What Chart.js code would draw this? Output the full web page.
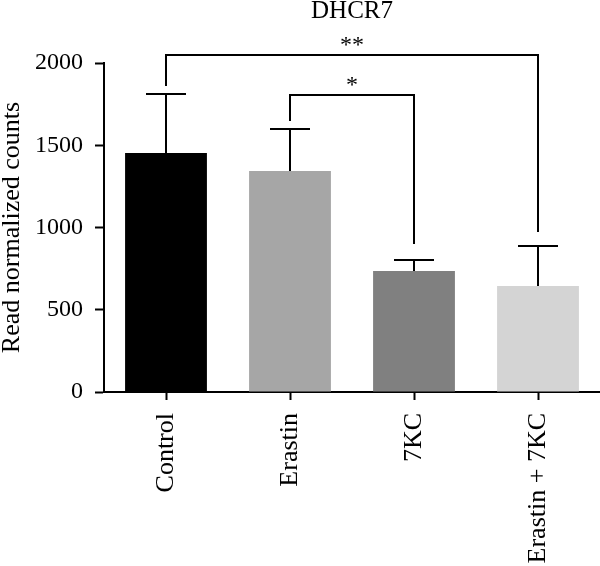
<!DOCTYPE html>
<html>
<head>
<meta charset="utf-8">
<script src="https://cdn.jsdelivr.net/npm/chart.js@4.4.0/dist/chart.umd.min.js"></script>
<style>
  html, body { margin: 0; padding: 0; background: #fff; }
  #wrap { width: 600px; height: 566px; position: relative; }
</style>
</head>
<body>
<div id="wrap"><canvas id="c"></canvas></div>
<script>
// ---- data ----
const categories = ['Control', 'Erastin', '7KC', 'Erastin + 7KC'];
const means = [1453, 1343, 736, 644];
const errorTops = [1812, 1599, 802, 888];
const barColors = ['#000000', '#a6a6a6', '#808080', '#d4d4d4'];
const yTicks = [0, 500, 1000, 1500, 2000];
// significance brackets: [fromIndex, toIndex], level, tip ends, label
const bracketPairs = [[0, 3], [1, 2]];
const bracketLevels = [2049, 1805];
const bracketLeftEnds = [1860, 1647];
const bracketRightEnds = [973, 900];
const bracketLabels = ['**', '*'];

const FONT = "'Liberation Serif', 'Times New Roman', serif";

const overlay = {
  id: 'overlay',
  afterDatasetsDraw(chart) {
    const ctx = chart.ctx;
    const x = chart.scales.x, y = chart.scales.y;
    ctx.save();
    ctx.strokeStyle = '#000';
    ctx.lineWidth = 2;
    ctx.lineCap = 'butt';
    // error bars (upward)
    means.forEach((m, i) => {
      const cx = x.getPixelForValue(i);
      const y0 = y.getPixelForValue(m);
      const y1 = y.getPixelForValue(errorTops[i]);
      ctx.beginPath();
      ctx.moveTo(cx, y0);
      ctx.lineTo(cx, y1);
      ctx.moveTo(cx - 20, y1);
      ctx.lineTo(cx + 20, y1);
      ctx.stroke();
    });
    // brackets
    bracketPairs.forEach((p, k) => {
      const xa = x.getPixelForValue(p[0]);
      const xb = x.getPixelForValue(p[1]);
      const yl = y.getPixelForValue(bracketLevels[k]);
      const ya = y.getPixelForValue(bracketLeftEnds[k]);
      const yb = y.getPixelForValue(bracketRightEnds[k]);
      ctx.beginPath();
      ctx.moveTo(xa, ya);
      ctx.lineTo(xa, yl);
      ctx.lineTo(xb, yl);
      ctx.lineTo(xb, yb);
      ctx.stroke();
      ctx.fillStyle = '#000';
      ctx.font = '24px ' + FONT;
      ctx.textAlign = 'center';
      ctx.textBaseline = 'alphabetic';
      ctx.fillText(bracketLabels[k], (xa + xb) / 2, yl - 3);
    });
    ctx.restore();
  }
};

new Chart(document.getElementById('c'), {
  type: 'bar',
  data: {
    labels: categories,
    datasets: [{
      data: means,
      backgroundColor: barColors,
      borderWidth: 0,
      categoryPercentage: 1.0,
      barPercentage: 0.66
    }]
  },
  options: {
    responsive: true,
    maintainAspectRatio: false,
    animation: false,
    layout: { padding: { top: 0, left: 0, right: 0, bottom: 0 } },
    plugins: {
      legend: { display: false },
      tooltip: { enabled: false },
      title: {
        display: true,
        text: 'DHCR7',
        color: '#000',
        fullSize: false,
        font: { family: FONT, size: 25, weight: 'normal', lineHeight: 0.9 },
        padding: { top: 0, bottom: 40.5 }
      }
    },
    scales: {
      x: {
        grid: { display: true, offset: false, drawOnChartArea: false, drawTicks: true, tickLength: 8, tickColor: '#000', tickWidth: 2 },
        border: { display: true, color: '#000', width: 2 },
        ticks: {
          color: '#000',
          font: { family: FONT, size: 26 },
          minRotation: 90, maxRotation: 90,
          padding: 13,
          autoSkip: false
        },
        afterFit(s) { s.height = 174; }
      },
      y: {
        min: 0, max: 2000,
        afterBuildTicks(s) { s.ticks = yTicks.map(v => ({ value: v })); },
        grid: { display: true, drawOnChartArea: false, drawTicks: true, tickLength: 9, tickColor: '#000', tickWidth: 2 },
        border: { display: true, color: '#000', width: 2 },
        ticks: {
          color: '#000',
          font: { family: FONT, size: 24 },
          padding: 12,
          callback: (v) => String(v)
        },
        title: {
          display: true,
          text: 'Read normalized counts',
          color: '#000',
          font: { family: FONT, size: 26, lineHeight: 0.9 },
          padding: 0
        },
        afterFit(s) { s.width = 104; }
      }
    }
  },
  plugins: [overlay]
});
</script>
</body>
</html>
